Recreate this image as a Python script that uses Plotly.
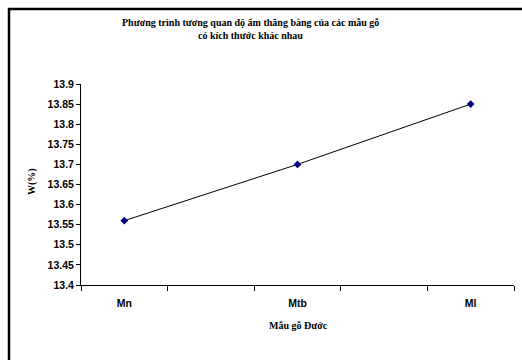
import plotly.graph_objects as go

# Equilibrium moisture content of Đước wood samples of different sizes
categories = ["Mn", "Mtb", "Ml"]
moisture = [13.56, 13.70, 13.85]
y_tick_values = [13.4, 13.45, 13.5, 13.55, 13.6, 13.65, 13.7, 13.75, 13.8, 13.85, 13.9]
y_tick_labels = ["13.4", "13.45", "13.5", "13.55", "13.6", "13.65", "13.7", "13.75", "13.8", "13.85", "13.9"]

title_lines = ["Phương trình tương quan độ ẩm thăng bằng của các mẫu gỗ",
               "có kích thước khác nhau"]
x_title = "Mẫu gỗ Đước"
y_title = "W(%)"

W, H = 522, 360
L, R, T, B = 81, 8, 84, 75
pw, ph = W - L - R, H - T - B

sans = dict(family="Liberation Sans, Arial, sans-serif", size=10.5, color="black", weight="bold")
serif = dict(family="Liberation Serif, Times New Roman, serif", size=10, color="black", weight="bold")

xpos = list(range(len(categories)))

fig = go.Figure()
fig.add_trace(go.Scatter(
    x=xpos, y=moisture, mode="lines+markers",
    line=dict(color="black", width=1),
    marker=dict(symbol="diamond", size=6, color="#000080"),
    showlegend=False, hoverinfo="skip",
))

def px_x(p):
    return (p - L) / pw

def px_y(p):
    return 1 - (p - T) / ph

# two-line chart title, placed line by line for tighter spacing
title_annotations = [
    dict(text=line, xref="paper", yref="paper", x=px_x(250), y=px_y(yc),
         showarrow=False, font=serif, xanchor="center", yanchor="middle")
    for line, yc in zip(title_lines, [23, 35])
]

fig.update_layout(
    width=W, height=H,
    margin=dict(l=L, r=R, t=T, b=B, autoexpand=False),
    paper_bgcolor="white", plot_bgcolor="white",
    xaxis=dict(
        range=[-0.25, len(categories) - 0.75],
        tickmode="array", tickvals=xpos, ticktext=categories,
        ticks="", showgrid=False, zeroline=False,
        showline=True, linecolor="black", linewidth=1,
        tickfont=sans, ticklabelstandoff=8,
        minor=dict(tickmode="linear", tick0=-0.25, dtick=0.5,
                   ticks="outside", ticklen=5, tickcolor="black", tickwidth=1,
                   showgrid=False),
    ),
    yaxis=dict(
        range=[13.4, 13.9],
        tickmode="array", tickvals=y_tick_values, ticktext=y_tick_labels,
        ticks="outside", ticklen=4, tickcolor="black", tickwidth=1,
        showgrid=False, zeroline=False,
        showline=True, linecolor="black", linewidth=1,
        tickfont=sans,
    ),
    shapes=[
        # chart frame
        dict(type="rect", xref="paper", yref="paper",
             x0=px_x(9), x1=px_x(700), y0=px_y(700), y1=px_y(9),
             line=dict(color="black", width=2.5), fillcolor="rgba(0,0,0,0)", layer="below"),
    ],
    annotations=title_annotations + [
        dict(text=x_title, xref="paper", yref="paper", x=px_x(298), y=px_y(325),
             showarrow=False, font=serif, xanchor="center", yanchor="middle"),
        dict(text=y_title, xref="paper", yref="paper", x=px_x(32), y=px_y(182),
             showarrow=False, font=serif, textangle=-90, xanchor="center", yanchor="middle"),
    ],
)

fig.write_html("out.html")
